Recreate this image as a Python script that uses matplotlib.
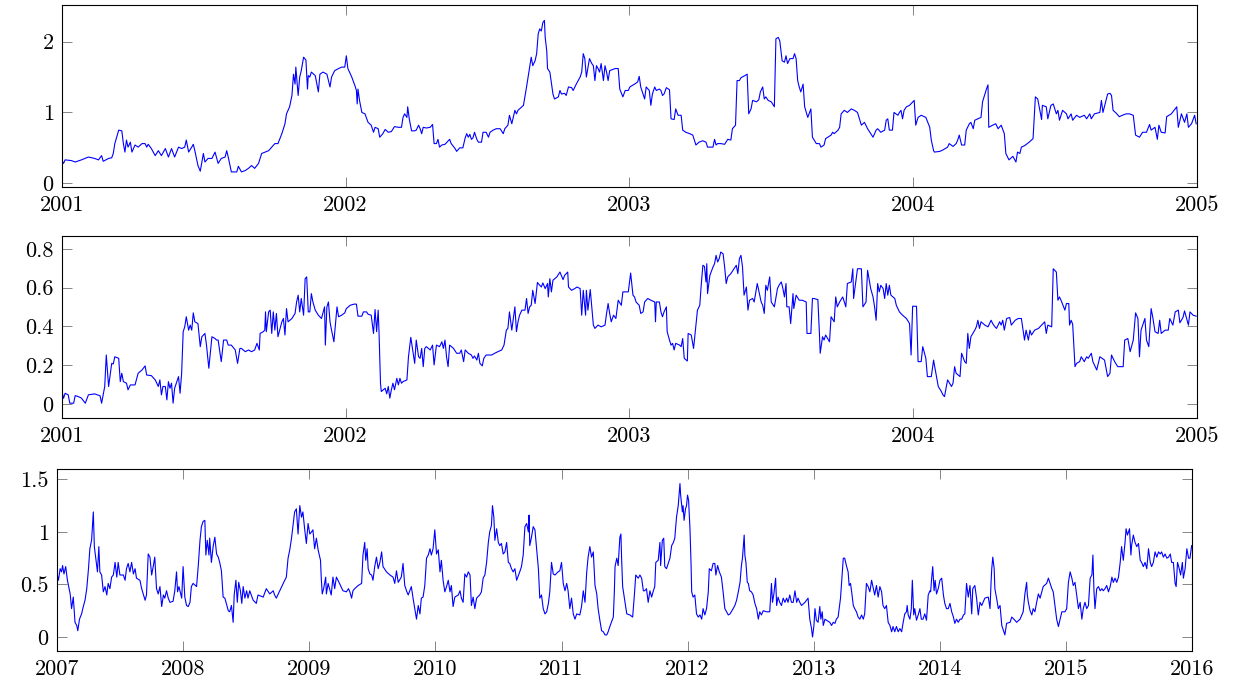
import pandas as pd
import matplotlib.pyplot as plt
import matplotlib.dates as mdates
from matplotlib.ticker import FuncFormatter

plt.rcParams['font.family'] = 'cmr10'
plt.rcParams['axes.formatter.use_mathtext'] = True
plt.rcParams['mathtext.fontset'] = 'cm'

# series 1: 2001-2004, days counted from 2001-01-01
p1_day = [0, 2, 4, 12, 17, 25, 34, 42, 47, 51, 53, 60, 64, 66, 68, 73, 77, 79, 81, 83, 85, 88, 90, 94, 98,
          103, 107, 109, 111, 115, 120, 124, 128, 133, 137, 141, 145, 150, 154, 158, 160, 163, 167, 169, 171,
          175, 178, 182, 184, 188, 193, 197, 201, 205, 210, 212, 214, 218, 225, 227, 231, 236, 240, 244, 248,
          253, 257, 266, 274, 278, 283, 287, 289, 293, 296, 298, 300, 301, 304, 306, 308, 311, 314, 316, 317,
          319, 321, 326, 330, 332, 336, 341, 345, 347, 351, 356, 360, 364, 366, 368, 373, 377,
          379, 380, 381, 383, 386, 390, 394, 398, 401, 403, 407, 409, 413, 416, 420, 424, 428, 433, 437, 439,
          441, 444, 445, 447, 450, 454, 456, 459, 461, 463, 465, 469, 474, 477, 479, 482, 484, 486, 489, 493,
          499, 501, 506, 508, 512, 516, 519, 521, 523, 525, 527, 529, 531, 534, 536, 540, 542, 546, 549, 551,
          555, 559, 564, 568, 570, 574, 576, 579, 583, 585, 587, 594, 598, 602, 604, 606, 609, 611, 613, 615,
          617, 619, 621, 622, 624, 625, 628, 632, 634, 639, 641, 643, 647, 649, 652, 656, 658, 662, 667, 669,
          671, 673, 675, 679, 682, 684, 686, 688, 690, 692, 694, 697, 699, 701, 703, 705, 712, 716, 718, 722,
          725, 729, 731,
          737, 741, 743, 745, 748, 750, 752, 756, 758, 760, 763, 765, 769, 771, 773, 775, 778, 782, 784, 788,
          790, 793, 797, 799, 803, 808, 812, 814, 816, 820, 825, 829, 831, 838, 840, 842, 844, 848, 853, 857,
          861, 863, 867, 869, 872, 874, 879, 882, 884, 887, 889, 894, 897, 899, 902, 904, 906, 909, 913, 917,
          919, 922, 924, 927, 930, 932, 934, 937, 941, 943, 945, 947, 949, 951, 954, 956, 960, 964, 966, 971,
          975, 977, 981, 983, 990, 992, 994, 999, 1001, 1003, 1007, 1011, 1016, 1020, 1024, 1029, 1033, 1037,
          1041, 1044, 1048, 1050, 1054, 1059, 1061, 1063, 1065, 1069, 1071, 1076, 1078, 1080, 1082, 1084,
          1087, 1091, 1097, 1099, 1102, 1106, 1112, 1117, 1119, 1122,
          1123, 1130, 1134, 1140, 1142, 1147, 1151, 1153, 1155, 1158, 1162, 1164, 1168, 1170, 1173, 1175,
          1179, 1183, 1185, 1190, 1192, 1193, 1198, 1202, 1205, 1209, 1213, 1215, 1219, 1224, 1228, 1230,
          1233, 1235, 1239, 1245, 1250, 1253, 1256, 1261, 1262, 1267, 1269, 1273, 1276, 1280, 1282, 1284,
          1288, 1293, 1295, 1299, 1301, 1306, 1310, 1316, 1319, 1323, 1325, 1329, 1336, 1338, 1340, 1346,
          1349, 1351, 1353, 1357, 1361, 1365, 1370, 1374, 1379, 1382, 1387, 1391, 1396, 1400, 1402, 1407,
          1410, 1412, 1415, 1420, 1422, 1428, 1435, 1437, 1441, 1445, 1448, 1450, 1454, 1458, 1460]
p1_val = [.32, .28, .33, .32, .30, .33, .37, .35, .33, .39, .31, .35, .36, .42, .56, .75, .74, .56, .44, .61, .51,
          .58, .44, .54, .51, .56, .56, .51, .55, .49, .39, .46, .39, .49, .37, .49, .37, .51, .49, .51, .61, .44,
          .51, .55, .46, .25, .17, .42, .30, .35, .35, .44, .28, .35, .37, .46, .37, .16, .16, .24, .16, .18, .21,
          .25, .21, .28, .42, .46, .56, .56, .70, .84, .98, 1.08, 1.24, 1.54, 1.40, 1.64, 1.24, 1.50, 1.59, 1.78,
          1.74, 1.33, 1.52, 1.50, 1.57, 1.52, 1.29, 1.54, 1.57, 1.54, 1.36, 1.50, 1.59, 1.62, 1.64, 1.64, 1.80,
          1.62, 1.50, 1.38,
          1.31, 1.12, 1.33, 1.17, 1.00, .98, .86, .82, .72, .79, .77, .65, .70, .76, .72, .73, .80, .79, .79,
          .93, .98, .93, 1.08, .91, .74, .74, .75, .82, .77, .70, .79, .78, .79, .83, .56, .56, .62, .51, .54,
          .55, .62, .56, .49, .45, .50, .50, .64, .70, .65, .69, .62, .64, .72, .62, .58, .58, .72, .72, .65,
          .72, .75, .77, .77, .70, .77, .82, .96, .84, 1.03, .98, 1.03, 1.10, 1.36, 1.64, 1.78, 1.66, 1.73,
          1.83, 2.11, 2.18, 2.15, 2.27, 2.30, 2.06, 1.87, 1.62, 1.57, 1.26, 1.19, 1.22, 1.31, 1.26, 1.27,
          1.24, 1.36, 1.35, 1.31, 1.40, 1.50, 1.57, 1.83, 1.76, 1.50, 1.76, 1.69, 1.66, 1.45, 1.66, 1.62,
          1.57, 1.69, 1.45, 1.66, 1.57, 1.45, 1.59, 1.62, 1.62, 1.33, 1.22, 1.31, 1.31, 1.36,
          1.40, 1.43, 1.51, 1.36, 1.26, 1.19, 1.36, 1.31, 1.10, 1.26, 1.36, 1.31, 1.33, 1.31, 1.24, 1.26,
          1.35, 1.32, .91, .90, 1.05, .96, .96, .75, .72, .70, .68, .61, .54, .58, .60, .58, .51, .51, .62,
          .54, .56, .56, .55, .62, .61, .77, .82, 1.45, 1.45, 1.49, 1.52, 1.54, .98, 1.05, 1.17, 1.15, 1.18,
          1.29, 1.36, 1.19, 1.22, 1.17, 1.15, 1.08, 2.04, 2.06, 2.01, 1.73, 1.71, 1.80, 1.69, 1.76, 1.76,
          1.83, 1.76, 1.45, 1.36, 1.29, 1.40, 1.08, .93, 1.05, .65, .56, .56, .51, .54, .63, .68, .72, .70,
          .75, .79, .98, 1.03, 1.00, 1.05, 1.03, 1.00, .82, .86, .77, .70, .65, .75, .77, .72, .75, .89, .91,
          .75, .75, 1.00, .96, 1.00, 1.03, .91, 1.03, 1.08, 1.10, 1.17, .82, .93, .96, .93, .79, .61, .46,
          .44, .45, .47, .51, .56, .52, .56, .61, .68, .54, .54, .75, .84, .86, .77, .89, .91, .93, 1.15,
          1.33, 1.39, .79, .82, .84, .77, .82, .70, .42, .33, .38, .30, .44, .42, .51, .53, .58, .63, 1.22,
          1.19, .90, 1.10, 1.08, .91, 1.10, 1.12, .98, 1.03, .89, 1.03, .98, .91, .98, .89, .96, .93, .96,
          .91, .98, .91, .98, 1.00, 1.17, 1.00, 1.26, 1.27, 1.24, 1.03, .99, .94, .96, .98, .98, .96, .68,
          .65, .72, .72, .83, .75, .79, .62, .82, .72, .71, .94, .98, 1.08, .79, .98, .86, .98, .79, .84, .96,
          .84]

# series 2: 2001-2004, days counted from 2001-01-01
p2_day = [0, 2, 4, 8, 10, 15, 17, 21, 25, 30, 34, 42, 49, 51, 55, 57, 60, 64, 66, 68, 73, 75, 77, 79, 83,
          85, 88, 94, 98, 103, 107, 109, 115, 120, 124, 126, 128, 130, 133, 135, 137, 139, 141, 143, 145,
          150, 152, 154, 156, 158, 160, 163, 165, 167, 169, 171, 175, 178, 180, 184, 186, 189, 193, 197,
          199, 201, 205, 208, 212, 214, 218, 223, 226, 229, 231, 236, 240, 244, 248, 251, 254, 255, 259,
          261, 262, 263, 266, 268, 270, 272, 274, 276, 278, 283, 285, 287, 289, 291, 296, 300, 302, 304,
          306, 308, 311, 313, 315, 317, 319, 321, 323, 326, 330, 334, 338, 339, 341, 343, 345, 347, 350,
          354, 356, 360, 364, 366, 371, 376,
          379, 381, 386, 388, 392, 394, 398, 401, 403, 405, 407, 408, 410, 411, 416, 418, 420, 422, 424,
          426, 428, 431, 433, 435, 437, 439, 444, 446, 449, 452, 454, 456, 459, 461, 463, 465, 467, 469,
          474, 477, 479, 482, 486, 489, 491, 493, 495, 497, 499, 504, 508, 512, 514, 517, 519, 523, 527,
          529, 531, 534, 536, 538, 541, 543, 546, 553, 557, 561, 566, 569, 572, 574, 576, 579, 583, 585,
          587, 589, 592, 596, 598, 600, 602, 604, 606, 609, 612, 613, 617, 619, 622, 625, 626, 628, 630,
          632, 637, 641, 645, 647, 651, 652, 656, 660, 663, 667, 669, 671, 674, 675, 677, 680, 684, 686,
          690, 694, 699, 701, 703, 705, 707, 710, 713, 716, 720, 722, 727, 729, 732, 735,
          737, 739, 743, 745, 748, 750, 754, 758, 763, 764, 765, 769, 771, 773, 775, 778, 779, 782, 784,
          786, 788, 790, 795, 797, 799, 801, 805, 806, 810, 813, 815, 818, 821, 823, 825, 827, 829, 830,
          831, 834, 838, 840, 842, 844, 846, 848, 851, 853, 855, 857, 861, 865, 868, 870, 872, 874, 876,
          878, 881, 883, 885, 889, 891, 895, 900, 902, 904, 906, 908, 911, 913, 917, 921, 923, 926, 928,
          930, 932, 933, 936, 938, 941, 942, 945, 949, 953, 958, 959, 964, 966, 968, 973, 975, 976, 979,
          981, 983, 988, 990, 994, 996, 998, 1001, 1005, 1009, 1011, 1016, 1018, 1019, 1022, 1024, 1029,
          1031, 1035, 1037, 1041, 1044, 1046, 1048, 1050, 1052, 1054, 1057, 1059, 1061, 1063, 1065, 1067,
          1072, 1074, 1078, 1082, 1087, 1091, 1093, 1095, 1100, 1102, 1106, 1108, 1112, 1114, 1119, 1122,
          1123, 1128, 1132, 1134, 1136, 1140, 1145, 1147, 1149, 1151, 1156, 1158, 1162, 1164, 1166, 1168,
          1170, 1175, 1177, 1179, 1181, 1183, 1188, 1192, 1196, 1198, 1201, 1203, 1207, 1209, 1211, 1213,
          1216, 1220, 1222, 1227, 1231, 1235, 1239, 1241, 1244, 1246, 1248, 1252, 1257, 1261, 1265, 1267,
          1269, 1274, 1276, 1280, 1282, 1284, 1286, 1291, 1293, 1296, 1297, 1299, 1301, 1304, 1306, 1310,
          1312, 1316, 1319, 1321, 1325, 1327, 1332, 1336, 1342, 1346, 1349, 1351, 1355, 1359, 1366, 1368,
          1372, 1375, 1379, 1382, 1385, 1387, 1389, 1394, 1396, 1399, 1402, 1404, 1407, 1411, 1413, 1415,
          1420, 1424, 1426, 1430, 1433, 1437, 1439, 1443, 1445, 1450, 1452, 1456, 1460]
p2_val = [.065, .03, .056, .048, .005, .005, .044, .039, .031, .005, .048, .053, .043, .005, .091, .253, .091,
          .21, .207, .244, .236, .116, .159, .116, .108, .074, .099, .099, .159, .176, .197, .15, .147, .125,
          .091, .125, .048, .091, .091, .022, .116, .082, .108, .005, .082, .142, .056, .159, .373, .398, .45,
          .381, .407, .381, .47, .424, .415, .296, .347, .364, .304, .185, .347, .338, .33, .33, .219, .33,
          .33, .304, .304, .279, .21, .287, .287, .27, .279, .27, .279, .313, .279, .364, .373, .381, .475,
          .373, .475, .484, .364, .475, .381, .467, .347, .424, .441, .356, .492, .424, .441, .467, .526,
          .561, .475, .544, .458, .646, .655, .475, .475, .569, .526, .484, .458, .441, .501, .304, .501,
          .526, .424, .381, .321, .501, .45, .458, .47, .492, .509, .515,
          .515, .453, .453, .475, .475, .463, .458, .364, .487, .373, .484, .381, .108, .065, .082, .053,
          .091, .031, .074, .108, .074, .133, .099, .133, .108, .116, .125, .244, .344, .262, .21, .33, .244,
          .236, .287, .193, .287, .296, .279, .304, .202, .304, .296, .321, .287, .33, .244, .193, .304,
          .287, .262, .262, .279, .219, .279, .262, .253, .236, .248, .227, .262, .21, .197, .236, .253,
          .253, .262, .27, .279, .304, .381, .39, .475, .381, .501, .373, .424, .458, .484, .484, .544, .467,
          .501, .509, .586, .518, .626, .621, .603, .624, .595, .621, .552, .646, .578, .638, .655, .68, .641,
          .663, .68, .603, .586, .595, .603, .595, .458, .586, .458, .586, .484, .59, .407, .39, .407, .398,
          .407, .467, .518, .467, .424, .458, .441, .535, .509, .578, .578, .578, .675, .561,
          .552, .526, .509, .467, .475, .526, .544, .535, .526, .424, .526, .526, .475, .45, .475, .501, .373,
          .33, .304, .313, .279, .313, .304, .296, .338, .236, .222, .364, .356, .287, .364, .484, .509, .621,
          .715, .709, .629, .723, .569, .663, .706, .723, .766, .732, .749, .783, .774, .706, .621, .655, .672,
          .697, .715, .672, .749, .766, .706, .561, .603, .484, .535, .544, .526, .621, .526, .509, .467, .612,
          .586, .655, .526, .501, .595, .612, .629, .595, .552, .621, .501, .501, .415, .569, .492, .561, .535,
          .535, .526, .364, .364, .544, .544, .538, .364, .262, .347, .33, .356, .321, .45, .424, .552, .501,
          .526, .552, .501, .621, .629, .697, .544, .638, .697, .697, .501, .526, .689, .595, .552, .501, .432,
          .621, .578, .612, .595, .544, .621, .561, .612, .561, .544, .509, .475, .458, .441, .415, .253, .504,
          .504, .219, .219, .296, .236, .142, .142, .227,
          .202, .091, .065, .048, .039, .125, .091, .108, .193, .159, .142, .262, .219, .21, .364, .287, .347,
          .381, .398, .432, .39, .424, .407, .398, .432, .415, .398, .39, .424, .407, .432, .381, .441, .446,
          .407, .432, .441, .441, .33, .381, .33, .381, .356, .381, .39, .407, .424, .364, .407, .398, .697,
          .68, .535, .552, .535, .484, .518, .518, .407, .432, .412, .193, .21, .219, .244, .219, .244, .236,
          .262, .219, .176, .244, .227, .142, .159, .253, .219, .193, .193, .33, .338, .27, .33, .47, .441,
          .244, .381, .441, .33, .296, .492, .45, .373, .364, .432, .364, .381, .381, .441, .407, .475, .484,
          .419, .446, .48, .407, .475, .458, .453]

# series 3: 2007-2015, days counted from 2007-01-01
p3_day = [0, 4, 9, 13, 16, 20, 25, 30, 33, 38, 42, 47, 52, 57, 60, 65, 71, 76, 81, 86, 91, 95, 100, 105, 108,
          113, 117, 121, 124, 129, 134, 139, 144, 148, 153, 158, 163, 168, 173, 177, 182, 192, 197, 201, 206,
          211, 216, 221, 226, 230, 240, 245, 255, 259, 264, 269, 274, 279, 283, 288, 293, 298, 303, 308, 312,
          317, 322, 327, 336, 341, 346, 349, 353, 356, 361, 365, 370, 375, 380, 385, 389, 394, 404, 409, 414,
          418, 423, 428, 431, 435, 440, 442, 447, 452, 457, 462, 467, 471, 476, 481, 486, 496, 500, 505, 510,
          513, 518, 522, 526, 531, 535, 539, 544, 549, 553, 558, 568, 577, 582, 597, 606, 616, 626, 630, 635,
          645, 655, 664, 669, 674, 679, 683, 688, 693, 698, 703, 708, 712, 717, 722, 727, 732, 737, 741, 746,
          751, 756, 763, 765, 768, 772, 778, 780, 785, 794, 799, 804, 809, 818, 828, 838, 844,
          848, 853, 857, 862, 872, 882, 886, 891, 894, 898, 901, 906, 911, 915, 920, 925, 930, 935, 940, 944,
          954, 964, 973, 978, 983, 988, 997, 1002, 1007, 1012, 1017, 1026, 1031, 1036, 1041, 1046, 1051,
          1055, 1060, 1065, 1070, 1075, 1080, 1084, 1089, 1094, 1099, 1104, 1109, 1113, 1118, 1123, 1128,
          1133, 1138, 1142, 1147, 1152, 1162, 1167, 1171, 1176, 1181, 1186, 1191, 1196, 1200, 1205, 1210,
          1215, 1224, 1229, 1234, 1239, 1244, 1249, 1253, 1258, 1261, 1265, 1268, 1273, 1278, 1282, 1287,
          1292, 1297, 1302, 1307, 1311, 1316, 1321, 1326, 1331, 1340, 1345, 1350, 1355, 1360, 1365, 1367,
          1369, 1374, 1379, 1384, 1389, 1394, 1398, 1403, 1408, 1413, 1418, 1423, 1427, 1432, 1437, 1442,
          1451, 1456, 1461, 1466, 1471, 1476, 1480, 1485, 1490, 1495, 1500, 1505, 1514, 1519, 1524, 1529,
          1534, 1538, 1543, 1548, 1553, 1558, 1563, 1567, 1572, 1577, 1582, 1587, 1592, 1596, 1601, 1611,
          1614, 1616, 1621, 1625, 1630, 1633, 1635, 1638, 1645, 1650, 1659, 1667, 1672, 1676, 1683, 1685,
          1688, 1693, 1698, 1702, 1707, 1712, 1717, 1722, 1727, 1731, 1734, 1741, 1746, 1748, 1753, 1757,
          1760, 1765, 1770, 1775, 1780, 1785, 1789, 1794, 1799, 1804, 1806, 1811, 1813, 1816, 1820, 1823,
          1826, 1829, 1833, 1836, 1838, 1842, 1847, 1852, 1857, 1862, 1867, 1871, 1876, 1881, 1886, 1889,
          1895, 1900, 1905, 1908, 1913, 1918, 1924, 1929, 1934, 1939, 1944, 1949, 1958, 1963, 1968, 1973,
          1978, 1982, 1985, 1990, 1992, 1995, 1999, 2002, 2006, 2011, 2016, 2021, 2026, 2031, 2035, 2040,
          2045, 2055, 2064, 2069, 2072, 2076, 2081, 2084, 2088, 2093, 2098, 2103, 2108, 2113, 2117, 2122,
          2127, 2132, 2137, 2142, 2146, 2151, 2156, 2166, 2175, 2180, 2185, 2188, 2192, 2195, 2199, 2204,
          2209, 2212, 2216, 2219, 2224, 2228, 2238, 2243, 2248, 2253, 2257, 2262, 2269, 2277, 2281, 2286,
          2291, 2294, 2298, 2302, 2306, 2310, 2315, 2320, 2325, 2330, 2335, 2339, 2344, 2349, 2354, 2359,
          2364, 2368, 2373, 2378, 2383, 2388, 2392, 2397, 2402, 2407, 2412, 2417, 2421, 2426, 2431, 2436,
          2441, 2446, 2450, 2455, 2460, 2462, 2465, 2470, 2474, 2477, 2481, 2484, 2489, 2494, 2499, 2503,
          2508, 2513, 2518, 2523,
          2528, 2530, 2533, 2536, 2540, 2543, 2547, 2552, 2557, 2562, 2567, 2571, 2576, 2581, 2586, 2591,
          2596, 2600, 2605, 2610, 2615, 2620, 2625, 2629, 2634, 2639, 2644, 2649, 2652, 2658, 2663, 2668,
          2673, 2678, 2687, 2697, 2702, 2705, 2707, 2710, 2714, 2716, 2721, 2726, 2731, 2736, 2741, 2745,
          2750, 2760, 2765, 2774, 2779, 2789, 2798, 2803, 2808, 2810, 2813, 2818, 2823, 2827, 2832, 2837,
          2842, 2847, 2856, 2866, 2871, 2876, 2881, 2885, 2890, 2895, 2900, 2905, 2910, 2919, 2924, 2929,
          2934, 2939, 2943, 2948, 2953, 2958, 2963, 2968, 2972, 2977, 2982, 2987, 2992, 2997, 3000, 3003,
          3006, 3011, 3016, 3021, 3026, 3030, 3035, 3040, 3045, 3050, 3055, 3059, 3064, 3069, 3074, 3079,
          3083, 3088, 3093, 3096, 3100, 3106, 3110, 3112, 3117, 3122, 3127, 3132, 3137, 3141, 3146, 3151,
          3156, 3161, 3166, 3170, 3175, 3180, 3185, 3190, 3195, 3199, 3204, 3209, 3214, 3219, 3224, 3228,
          3233, 3238, 3241, 3245, 3250, 3254, 3259, 3262, 3267, 3272, 3277, 3281, 3286]
p3_val = [.60, .54, .65, .62, .68, .60, .67, .54, .49, .41, .27, .38, .14, .11, .06, .17, .22, .29, .35, .46, .65,
          .84, .92, 1.19, .86, .73, .62, .86, .62, .59, .43, .48, .40, .51, .46, .57, .59, .71, .57, .71, .59,
          .59, .54, .65, .70, .62, .71, .60, .65, .56, .54, .46, .35, .40, .79, .76, .59, .68, .76, .46, .41,
          .48, .29, .40, .37, .44, .37, .33, .34, .44, .62, .43, .48, .44, .37, .67, .38, .30, .29, .33, .48,
          .51, .48, .68, .92, 1.05, 1.10, 1.11, .78, .92, .78, .94, .71, .86, .95, .79, .76, .71, .63, .38,
          .37, .25, .24, .30, .14, .40, .54, .33, .52, .44, .32, .48, .37, .44, .37, .44, .35, .32, .40, .38,
          .46, .41, .44, .40, .37, .44, .51, .57, .75, .83, .94, 1.05, 1.19, 1.22, .98, 1.25, 1.14, 1.19,
          1.03, .89, 1.08, .98, 1.00, 1.02, .84, .94, .83, .73, .57, .41, .46, .57, .41, .51, .40, .57, .46,
          .57, .51, .44, .43, .46,
          .43, .37, .44, .46, .49, .51, .78, .90, .73, .84, .65, .60, .59, .54, .67, .76, .65, .71, .81, .67,
          .62, .59, .57, .51, .63, .52, .57, .70, .49, .44, .40, .48, .37, .27, .17, .30, .22, .37, .38, .49,
          .75, .78, .84, .78, .84, 1.02, .79, .83, .62, .73, .54, .43, .48, .54, .43, .49, .29, .38, .40, .44,
          .37, .33, .60, .57, .62, .59, .30, .38, .27, .37, .40, .43, .56, .59, .71, .90, 1.00, 1.06, 1.25,
          1.14, .92, 1.03, .90, .87, .89, .79, .81, .90, .71, .70, .65, .62, .65, .54, .62, .67, .78, 1.05,
          1.08, 1.00, 1.16, .87, .95, 1.05, 1.02, .83, .65, .37, .40, .27, .22, .24, .32, .43, .71, .60, .59,
          .62, .63, .71, .51, .44, .51, .44, .27, .37, .22, .17, .22, .21, .29, .44, .33, .62, .76, .86, .76,
          .81, .49, .41, .27, .16, .06, .05, .02, .02, .05, .10, .19, .43, .67, .75, .68, .95, .98, .75, .48,
          .33, .22, .21, .19, .40, .59, .56, .57,
          .59, .56, .44, .44, .46, .33, .44, .38, .44, .48, .71, .73, .90, .68, .92, .94, .67, .65, .70, .75,
          .87, .90, .94, 1.14, 1.25, 1.46, 1.35, 1.19, 1.25, 1.11, 1.22, 1.25, 1.35, 1.30, 1.03, .71, .43,
          .38, .40, .22, .19, .21, .17, .27, .21, .27, .43, .65, .63, .70, .70, .59, .68, .62, .57, .43, .27,
          .24, .21, .22, .27, .30, .35, .43, .52, .68, .75, .97, .78, .71, .52, .51, .44, .43, .40, .32, .27,
          .17, .24, .21, .25, .24, .24, .51, .33, .41, .56, .30, .38, .33, .30, .37, .33, .37, .33, .40, .33,
          .33, .44, .33, .37, .33, .30, .33, .37, .17, .08, .00, .11, .27, .16, .14, .29, .17, .24, .11, .17,
          .16, .14, .11, .14, .13, .17, .19, .37, .75, .75, .68, .62, .49, .51, .41, .30, .27, .24, .19, .17,
          .21, .17, .22, .51, .48, .43, .54, .46, .40, .49, .38, .48, .43, .30, .27, .30, .14, .11, .05, .10,
          .05, .10, .05, .08, .05, .13, .22, .24, .30, .21, .17, .27, .54, .21, .27, .16, .21, .27, .17, .17,
          .22, .16, .40,
          .44, .43, .56, .67, .44, .54, .41, .46, .54, .56, .40, .32, .27, .27, .32, .24, .19, .13, .17, .14,
          .17, .17, .21, .22, .51, .38, .49, .22, .46, .49, .37, .21, .33, .30, .37, .38, .27, .52, .65, .76,
          .65, .46, .37, .27, .30, .11, .06, .02, .13, .14, .19, .16, .14, .17, .24, .41, .52, .40, .33, .25,
          .21, .27, .24, .33, .41, .37, .48, .51, .56, .51, .46, .43, .30, .17, .10, .17, .24, .24, .27, .52,
          .62, .56, .49, .52, .40, .27, .33, .17, .27, .33, .27, .30, .56, .59, .78, .44, .27, .46, .48, .44,
          .46, .44, .46, .49, .43, .48, .57, .52, .56, .52, .57, .71, .86, .73, .90, 1.03, .97, 1.03, .78, .87,
          .97, .90, .86, .89, .73, .71, .67, .71, .65, .84, .71, .67, .71, .81, .76, .81, .79, .81, .76, .79,
          .75, .76, .79, .71, .71, .51, .48, .71, .65, .59, .71, .56, .65, .84, .75, .75, .87]


def draw(ax, start, days, vals, x0, x1, ylim, yticks):
    t = pd.Timestamp(start) + pd.to_timedelta(days, unit='D')
    ax.plot(t, vals, color='blue', lw=0.8)
    ax.set_xlim(pd.Timestamp(x0), pd.Timestamp(x1))
    ax.set_ylim(*ylim)
    ax.set_yticks(yticks)
    ax.yaxis.set_major_formatter(FuncFormatter(lambda v, p: '%g' % v))
    ax.xaxis.set_major_locator(mdates.YearLocator())
    ax.xaxis.set_major_formatter(mdates.DateFormatter('%Y'))
    ax.tick_params(direction='in', top=True, right=True, length=7, width=0.6,
                   color='0.45', labelsize=16, pad=6)
    for s in ax.spines.values():
        s.set_linewidth(0.8)


fig = plt.figure(figsize=(12.35, 6.89), dpi=100)
ax1 = fig.add_axes([0.0502, 0.7283, 0.919, 0.2642])
ax2 = fig.add_axes([0.0502, 0.3931, 0.919, 0.2642])
ax3 = fig.add_axes([0.0462, 0.0547, 0.919, 0.2642])

draw(ax1, '2001-01-01', p1_day, p1_val, '2001-01-01', '2005-01-01', (-0.056, 2.515), [0, 1, 2])
draw(ax2, '2001-01-01', p2_day, p2_val, '2001-01-01', '2005-01-01', (-0.072, 0.865), [0, 0.2, 0.4, 0.6, 0.8])
draw(ax3, '2007-01-01', p3_day, p3_val, '2007-01-01', '2016-01-01', (-0.136, 1.596), [0, 0.5, 1, 1.5])

fig.savefig('out.png', dpi=100)
